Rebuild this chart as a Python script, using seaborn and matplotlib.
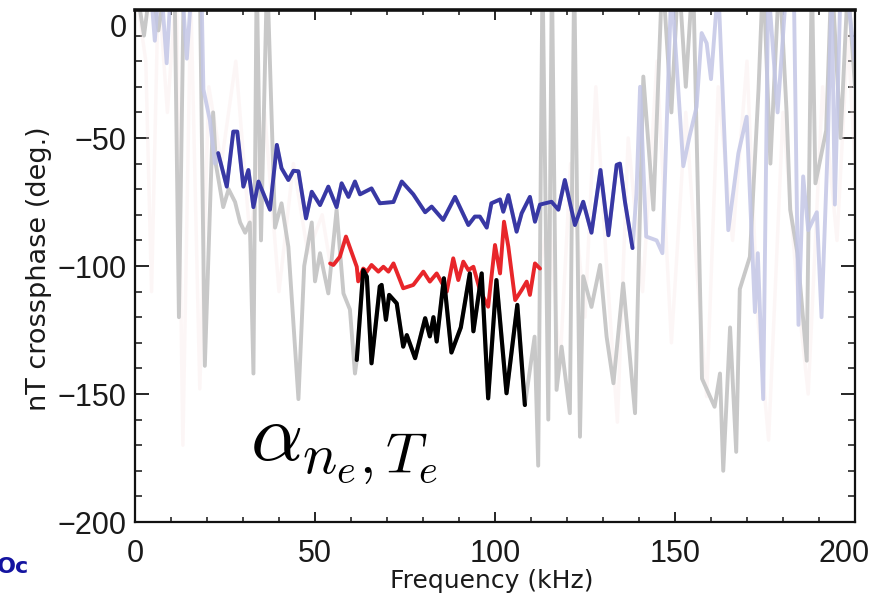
import numpy as np
import pandas as pd
import matplotlib
matplotlib.use("Agg")
import matplotlib.pyplot as plt
import matplotlib.transforms as mtransforms
from matplotlib.ticker import MultipleLocator
import seaborn as sns

# ---------------- data ----------------
# significant (bold) segments
blue_x = [23.1, 25.5, 27.3, 28.4, 30.1, 31.5, 32.9, 34.3, 37.5, 39.4, 40.7, 42.6, 44.0, 45.4,
          47.5, 49.1, 51.4, 53.7, 56.0, 57.4, 59.3, 61.1, 62.5, 65.7, 68.0, 71.8, 74.1, 77.3,
          80.6, 82.4, 85.6, 88.9, 92.6, 94.4, 95.8, 97.7, 99.0, 101.4, 102.3, 103.7, 106.0,
          107.4, 109.7, 111.1, 112.5, 115.7, 117.6, 119.4, 122.2, 124.5, 126.8, 129.3, 131.5,
          133.8, 134.7, 136.1, 138.2]
blue_y = [-55.9, -69.0, -47.5, -47.5, -69.0, -62.5, -77.0, -67.0, -78.0, -52.7, -61.8, -66.4,
          -62.8, -63.0, -81.4, -71.0, -76.2, -69.0, -77.0, -67.7, -73.0, -67.0, -72.0, -69.7,
          -75.5, -75.0, -67.0, -72.0, -79.0, -76.8, -82.0, -73.0, -84.0, -80.7, -80.7, -85.0,
          -75.5, -74.0, -78.8, -72.3, -86.6, -79.4, -73.0, -82.7, -76.0, -74.9, -78.0, -66.4,
          -84.0, -74.9, -87.0, -62.5, -88.0, -60.5, -60.0, -74.9, -93.0]

red_x = [54.2, 55.1, 56.9, 58.6, 61.6, 62.0, 63.4, 64.4, 65.7, 67.6, 69.0, 70.4, 71.8, 74.5,
         77.3, 80.1, 81.9, 83.8, 86.6, 88.4, 89.8, 91.2, 92.6, 94.0, 95.8, 98.1, 100.0, 101.4,
         102.5, 103.7, 105.6, 107.4, 108.8, 109.7, 111.1, 112.5]
red_y = [-99.0, -99.6, -96.4, -88.5, -100.3, -106.0, -101.0, -102.2, -99.6, -102.2, -100.3,
         -102.2, -99.0, -108.7, -107.4, -102.2, -106.1, -102.9, -110.0, -97.0, -105.5, -98.3,
         -101.6, -100.3, -109.4, -115.9, -91.8, -102.9, -82.7, -92.4, -113.3, -109.4, -106.1,
         -111.3, -99.0, -101.0]

black_x = [61.6, 63.4, 64.4, 65.7, 68.0, 68.5, 69.7, 70.6, 72.7, 74.5, 75.5, 77.8, 80.6, 81.9,
           82.9, 83.8, 85.8, 87.9, 90.5, 93.0, 94.0, 96.3, 98.1, 100.4, 103.2, 106.2, 108.3]
black_y = [-136.7, -101.6, -104.2, -138.0, -108.0, -107.4, -121.0, -111.3, -114.6, -131.5,
           -127.0, -136.0, -120.4, -127.5, -120.0, -129.5, -104.8, -133.8, -124.0, -102.9,
           -125.5, -102.9, -151.7, -105.5, -149.7, -115.2, -154.3]

# faint full-range traces (outside the bold segments)
gray_left_x = [0.5, 2.5, 4.5, 6.5, 9.0, 11.0, 12.2, 13.6, 15.5, 18.0, 19.4, 21.7, 22.5, 24.5,
               26.0, 27.8, 29.2, 30.6, 31.9, 32.9, 33.8, 35.0, 36.7, 38.9, 40.7, 42.6, 45.4,
               47.0, 49.1, 50.0, 51.4, 53.7, 56.0, 57.9, 59.7, 61.1]
gray_left_y = [8.0, -10.0, 12.0, -8.0, 15.0, 10.0, -120.0, 15.0, 10.0, 12.0, -139.0, -40.0,
               -60.5, -77.0, -70.0, -75.0, -83.0, -87.0, -83.0, -142.0, 15.0, -90.0, 15.0,
               -85.0, -75.5, -92.5, -152.0, -100.0, -83.0, -106.0, -95.0, -110.7, -78.0,
               -110.7, -117.0, -142.0]
gray_right_x = [111.0, 112.0, 113.2, 114.8, 115.8, 117.1, 118.5, 120.8, 122.0, 123.6, 124.5,
                126.8, 129.2, 131.0, 132.9, 135.6, 138.9, 141.2, 144.0, 146.5, 149.0, 151.0,
                153.0, 155.0, 157.5, 161.0, 162.5, 163.4, 165.3, 167.0, 168.0, 170.8, 173.2,
                174.5, 176.5, 179.0, 181.0, 182.0, 184.0, 186.6, 188.0, 189.0, 192.0, 193.5,
                196.0, 198.0, 200.0]
gray_right_y = [-127.6, -178.0, 15.0, -160.0, 15.0, -148.4, -131.5, -157.5, 15.0, -166.7,
                -104.0, -116.0, -99.6, -127.6, -145.8, -106.8, -157.5, -26.0, -78.0, 15.0,
                -40.0, 15.0, -30.0, 15.0, -144.0, -155.0, -142.0, -180.0, -124.0, -172.6,
                -109.0, -96.4, -31.0, 15.0, -60.0, 15.0, -40.0, -78.0, -95.0, -137.0, 15.0,
                -67.7, -47.0, 15.0, -50.0, 10.0, -30.0]

lav_left_x = [0.5, 4.0, 5.5, 7.0, 8.8, 10.0, 13.0, 14.4, 16.0, 18.5, 19.0, 20.8, 22.2]
lav_left_y = [10.0, 15.0, -12.0, 15.0, -20.8, 10.0, 10.0, -19.0, 15.0, 5.0, -31.0, -43.0, -60.0]
lav_right_x = [139.3, 140.3, 142.0, 144.9, 146.5, 149.0, 152.3, 154.0, 156.0, 157.4, 158.8,
               160.0, 162.0, 164.8, 167.6, 169.9, 172.2, 173.0, 174.5, 175.9, 178.5, 181.0,
               183.0, 184.3, 185.6, 187.0, 189.4, 190.7, 192.5, 193.5, 194.4, 196.0, 198.0,
               200.0]
lav_right_y = [-71.6, -30.0, -88.5, -90.0, -95.0, 10.0, -61.0, -49.6, -37.8, -9.0, -13.0,
               -27.0, 10.0, -86.0, -56.0, -41.7, -118.0, -95.0, -152.0, 10.0, -40.0, 10.0,
               10.0, -123.0, -65.0, -86.0, -79.0, -120.0, -50.0, 10.0, -76.0, 10.0, 5.0, -20.0]

pink_left_x = [0.5, 3.0, 4.6, 6.5, 9.0, 11.5, 13.3, 15.5, 18.0, 20.5, 24.0, 28.0, 32.0, 36.0,
               40.0, 44.0, 48.0, 52.0]
pink_left_y = [5.0, -20.0, -110.0, 10.0, -40.0, 10.0, -170.0, 5.0, -148.0, -30.0, -60.0,
               -20.0, -90.0, -40.0, -110.0, -60.0, -95.0, -80.0]
pink_right_x = [115.0, 118.0, 121.0, 125.0, 128.0, 131.0, 134.0, 137.0, 141.0, 145.0, 149.0,
                153.0, 156.0, 158.8, 162.0, 166.0, 170.0, 173.0, 176.0, 180.0, 184.0, 187.0,
                191.0, 195.0, 198.0, 200.0]
pink_right_y = [-80.0, -140.0, -60.0, -120.0, -30.0, -100.0, -161.0, -50.0, -110.0, -20.0,
                -130.0, -40.0, -100.0, -151.0, -30.0, -90.0, -20.0, -120.0, -168.0, -40.0,
                -110.0, -150.0, -30.0, -90.0, -10.0, -60.0]

x_ticks = [0, 50, 100, 150, 200]
y_ticks = [-200, -150, -100, -50, 0]

# ---------------- build frames ----------------
gray_x = gray_left_x + black_x + gray_right_x
gray_y = gray_left_y + black_y + gray_right_y
lav_x = lav_left_x + blue_x + lav_right_x
lav_y = lav_left_y + blue_y + lav_right_y
pink_x = pink_left_x + red_x + pink_right_x
pink_y = pink_left_y + red_y + pink_right_y

def frame(x, y):
    return pd.DataFrame({"freq": x, "phase": y})

sns.set_style("white")
plt.rcParams["font.family"] = ["DejaVu Sans"]
plt.rcParams["mathtext.fontset"] = "cm"

fig = plt.figure(figsize=(8.75, 5.97), dpi=100)
ax = fig.add_axes([135 / 875, 75 / 597, 720 / 875, 512 / 597])

common = dict(x="freq", y="phase", sort=False, estimator=None, ax=ax, legend=False)
sns.lineplot(data=frame(pink_x, pink_y), color="#f9e6e6", lw=2.5, alpha=0.35, **common)
sns.lineplot(data=frame(gray_x, gray_y), color="#c8c8c8", lw=2.8, **common)
sns.lineplot(data=frame(lav_x, lav_y), color="#c3c6e6", lw=2.8, alpha=0.85, **common)
sns.lineplot(data=frame(red_x, red_y), color="#e8262a", lw=2.8, **common)
sns.lineplot(data=frame(blue_x, blue_y), color="#3838a4", lw=2.8, **common)
sns.lineplot(data=frame(black_x, black_y), color="#000000", lw=3.0, **common)

ax.set_xlim(0, 200)
ax.set_ylim(-200, 0)
ax.set_xticks(x_ticks)
ax.set_yticks(y_ticks)
ax.xaxis.set_minor_locator(MultipleLocator(10))
ax.yaxis.set_minor_locator(MultipleLocator(10))
ax.set_xticklabels([str(v) for v in x_ticks])
ax.set_yticklabels([str(v).replace("-", "\u2212") for v in y_ticks])

for lab in ax.get_xticklabels() + ax.get_yticklabels():
    lab.set_fontfamily("Liberation Sans")
    lab.set_fontsize(22)
    lab.set_color("#1a1a1a")

ax.tick_params(axis="x", which="major", direction="in", length=7.5, width=1.4,
               top=True, bottom=True, pad=12)
ax.tick_params(axis="x", which="minor", direction="in", length=3.5, width=1.2,
               top=True, bottom=True)
ax.tick_params(axis="y", which="major", direction="in", length=10, width=1.4,
               left=True, right=True, pad=6)
ax.tick_params(axis="y", which="minor", direction="in", length=5, width=1.2,
               left=True, right=True)

# the top "0" label sits below the top tick
ylabs = ax.get_yticklabels()
ylabs[-1].set_va("top")
ylabs[-1].set_transform(ylabs[-1].get_transform() +
                        mtransforms.ScaledTranslation(0, -3 / 72, fig.dpi_scale_trans))
# the last x label is pulled inside the figure
xlabs = ax.get_xticklabels()
xlabs[-1].set_transform(xlabs[-1].get_transform() +
                        mtransforms.ScaledTranslation(-8 / 72, 0, fig.dpi_scale_trans))

for side, sp in ax.spines.items():
    sp.set_color("#111111")
    sp.set_linewidth(1.6)
ax.spines["top"].set_linewidth(2.6)

ax.set_xlabel("Frequency (kHz)", fontsize=18, color="#1a1a1a")
ax.set_ylabel("nT crossphase (deg.)", fontsize=19.5, color="#1a1a1a")
ax.xaxis.set_label_coords(0.495, -0.092)
ax.yaxis.set_label_coords(-0.115, 0.494)

ax.text(32, -176, r"$\alpha_{n_e,T_e}$", fontsize=59, color="black", va="baseline", ha="left")

fig.text(-0.004, 0.05, "Oc", color="#1414a0", fontsize=16, fontweight="bold",
         va="center", ha="left")

fig.savefig("out.png", dpi=100)
